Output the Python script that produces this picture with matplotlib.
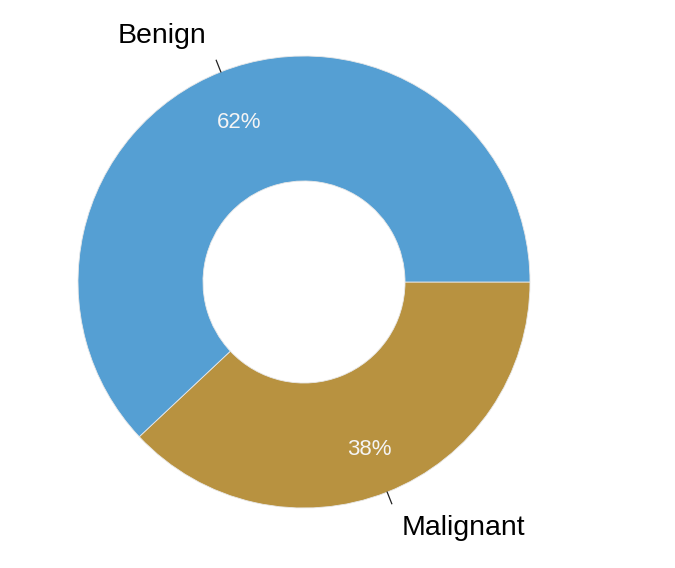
import numpy as np
import matplotlib
matplotlib.use("Agg")
import matplotlib.pyplot as plt

# data
labels = ["Malignant", "Benign"]
shares = [38, 62]
colors = ["#B89240", "#559FD3"]

plt.rcParams['font.family'] = ['Liberation Sans', 'DejaVu Sans']

fig = plt.figure(figsize=(6.75, 5.68), dpi=100)
ax = fig.add_axes([0, 0, 1, 1])

wedges, _, pcts = ax.pie(shares, colors=colors, startangle=0, counterclock=False,
                         radius=1.0, autopct='%d%%', pctdistance=0.78,
                         wedgeprops=dict(width=0.553, edgecolor='#e8e8e8', linewidth=0.6),
                         textprops=dict(color='#f4f4f4', fontsize=16))
# nudge percentage labels slightly down
for t in pcts:
    x, y = t.get_position()
    t.set_position((x, y - 0.018))

# outer labels with small ticks
for w, lab in zip(wedges, labels):
    ang = np.deg2rad((w.theta1 + w.theta2) / 2)
    c, s = np.cos(ang), np.sin(ang)
    ax.plot([1.0 * c, 1.055 * c], [1.0 * s, 1.055 * s], color='#222222', lw=0.9)
    ax.text(1.17 * c, 1.17 * s, lab, fontsize=20.5, color='black',
            ha='right' if c < 0 else 'left', va='center')

# map center to pixel (304, 282) with radius 226 px
sc = 226.0
ax.set_xlim(-304 / sc, (675 - 304) / sc)
ax.set_ylim(-(568 - 282) / sc, 282 / sc)
ax.axis('off')

plt.savefig('out.png', dpi=100)
